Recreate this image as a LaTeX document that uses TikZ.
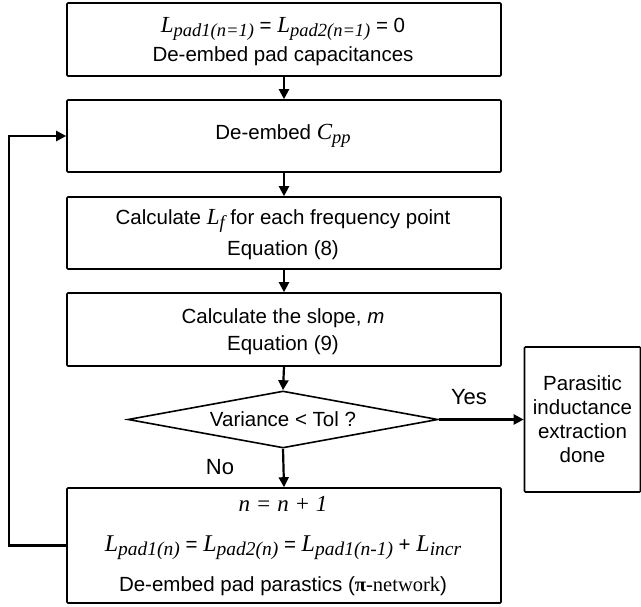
\documentclass[tikz,border=0pt]{standalone}
\usepackage{fontspec}
\setmainfont{Liberation Sans}
\newfontfamily\serf{Liberation Serif}
\usetikzlibrary{shapes.geometric,arrows.meta}
\newcommand\Vs[2]{{\fontsize{23}{23}\selectfont\serf\itshape #1}\raisebox{-0.2em}{\fontsize{18.5}{18.5}\selectfont\serf\itshape #2}}
\newcommand\Lw[1]{{\fontsize{24}{24}\selectfont\serf\itshape L}\raisebox{-0.2em}{\fontsize{19.5}{19.5}\selectfont\serf\itshape #1}}
\begin{document}
\begin{tikzpicture}[x=1pt,y=-1pt,
  box/.style={draw,line width=1.6pt,rounded corners=1pt,inner sep=0pt},
  txt/.style={inner sep=0pt,font=\fontsize{20.5}{24}\selectfont,align=center},
  lbl/.style={inner sep=0pt,font=\fontsize{22}{24}\selectfont},
  arr/.style={line width=2.2pt,-{Triangle[length=10pt,width=10pt]}}]
\useasboundingbox (0,0) rectangle (641,607);
% boxes
\node[box,minimum width=434pt,minimum height=73pt] (b1) at (284,39.5) {};
\node[box,minimum width=434pt,minimum height=72pt] (b2) at (284,136) {};
\node[box,minimum width=434pt,minimum height=72pt] (b3) at (284,233) {};
\node[box,minimum width=434pt,minimum height=73pt] (b4) at (284,329.5) {};
\node[draw,diamond,line width=1.6pt,inner sep=0pt,minimum width=310pt,minimum height=57pt] (d) at (283,419.5) {};
\node[box,minimum width=116pt,minimum height=145pt] (r) at (582.5,419.5) {};
\node[box,minimum width=434pt,minimum height=115pt] (b5) at (284,545.5) {};
% texts
\node[txt] (t1a) at (283,29) {\Vs{L}{pad1(n=1)} = \Vs{L}{pad2(n=1)} = 0};
\node[txt] (t1b) at (283,56) {De-embed pad capacitances};
\node[txt] (t2) at (283,136) {De-embed \Vs{C}{pp}};
\node[txt] (t3a) at (283,221) {Calculate \Vs{L}{f} for each frequency point};
\node[txt] (t3b) at (283,250) {Equation (8)};
\node[txt] (t4a) at (283,318) {Calculate the slope, \textit{m}};
\node[txt] (t4b) at (283,345) {Equation (9)};
\node[txt] (td) at (283,419.5) {Variance < Tol ?};
\node[txt] (tr) at (582.5,419.5) {Parasitic\\inductance\\extraction\\done};
\node[txt] (t5a) at (283,504) {\fontsize{23}{23}\selectfont\serf\itshape n = n + 1};
\node[txt] (t5b) at (283,548) {\Lw{pad1(n)} = \Lw{pad2(n)} = \Lw{pad1(n-1)} + \Lw{incr}};
\node[txt] (t5c) at (283,586) {De-embed pad parastics ({\serf\bfseries π}{\serf -network})};
\node[lbl] (yes) at (469,397) {Yes};
\node[lbl] (no) at (220,467) {No};
% connectors
\coordinate (lx) at (9,0);
\draw[arr] (b1.south) -- (b2.north);
\draw[arr] (b2.south) -- (b3.north);
\draw[arr] (b3.south) -- (b4.north);
\draw[arr] (b4.south) -- (d.north);
\draw[arr] (d.east) -- (r.west);
\draw[arr] (d.south) -- (b5.north);
\draw[arr] (b5.west) -- (b5.west -| lx) |- (b2.west);
\end{tikzpicture}
\end{document}
